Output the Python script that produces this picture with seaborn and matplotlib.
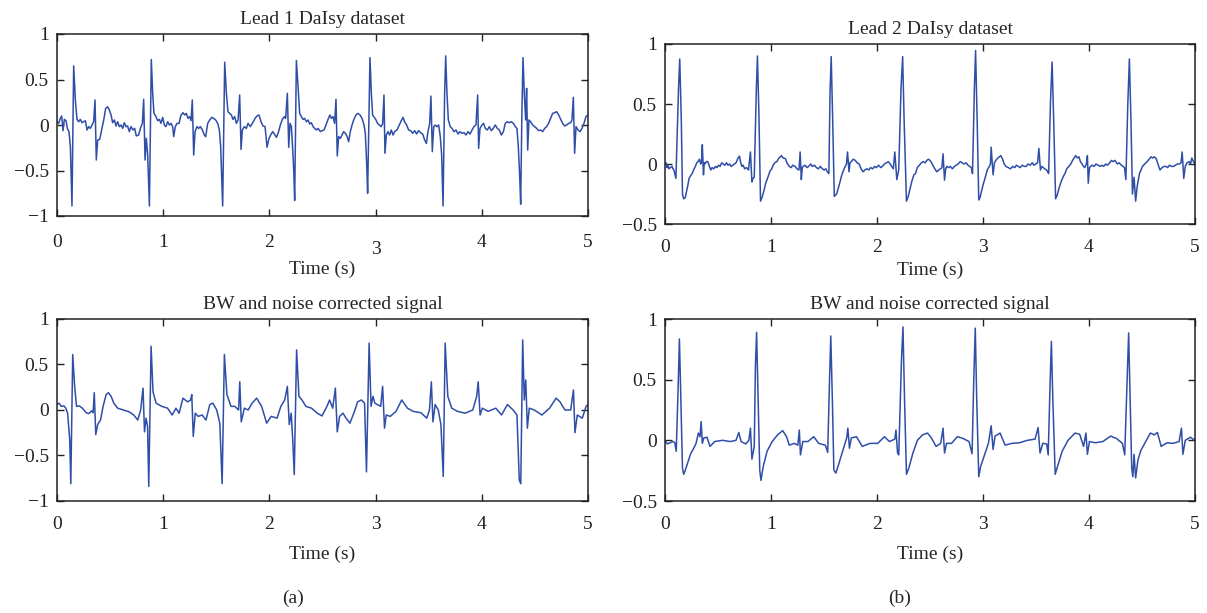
import matplotlib
matplotlib.use("Agg")
import matplotlib.pyplot as plt
import matplotlib.transforms as mtransforms
import seaborn as sns
import pandas as pd

# Lead 1, raw signal (time in s, amplitude)
lead1_t = [0.000, 0.016, 0.031, 0.044, 0.057, 0.069, 0.085, 0.097, 0.113, 0.126,
           0.141, 0.157, 0.173, 0.188, 0.204, 0.220, 0.235, 0.251, 0.267, 0.283,
           0.298, 0.314, 0.330, 0.345, 0.358, 0.370, 0.383, 0.402, 0.417, 0.440,
           0.458, 0.477, 0.493, 0.509, 0.524, 0.540, 0.556, 0.571, 0.587, 0.603,
           0.618, 0.634, 0.650, 0.665, 0.681, 0.697, 0.716, 0.731, 0.747, 0.769,
           0.785, 0.804, 0.816, 0.829, 0.841, 0.854, 0.870, 0.888, 0.901, 0.913,
           0.932, 0.948, 0.964, 0.979, 0.995, 1.011, 1.026, 1.042, 1.058, 1.074,
           1.089, 1.099, 1.114, 1.130, 1.149, 1.168, 1.187, 1.202, 1.218, 1.234,
           1.249, 1.262, 1.274, 1.287, 1.300, 1.318, 1.334, 1.350, 1.369, 1.387,
           1.400, 1.419, 1.438, 1.457, 1.475, 1.494, 1.513, 1.529, 1.541, 1.551,
           1.560, 1.579, 1.595, 1.610, 1.626, 1.642, 1.657, 1.673, 1.689, 1.705,
           1.720, 1.733, 1.745, 1.764, 1.783, 1.799, 1.821, 1.843, 1.865, 1.883,
           1.902, 1.921, 1.940, 1.959, 1.978, 1.996, 2.012, 2.031, 2.047, 2.066,
           2.084, 2.103, 2.122, 2.141, 2.153, 2.169, 2.182, 2.194, 2.207, 2.219,
           2.229, 2.238, 2.254, 2.270, 2.285, 2.301, 2.317, 2.332, 2.348, 2.364,
           2.379, 2.395, 2.411, 2.426, 2.442, 2.458, 2.480, 2.496,
           2.514, 2.533, 2.552, 2.570, 2.583, 2.599, 2.614, 2.627, 2.639, 2.652,
           2.668, 2.683, 2.699, 2.715, 2.730, 2.746, 2.762, 2.778, 2.796, 2.815,
           2.834, 2.853, 2.872, 2.891, 2.903, 2.916, 2.925, 2.938, 2.947, 2.960,
           2.972, 2.988, 3.004, 3.019, 3.035, 3.051, 3.066, 3.079, 3.088, 3.101,
           3.117, 3.132, 3.148, 3.164, 3.179, 3.201, 3.223, 3.242, 3.258, 3.273,
           3.292, 3.311, 3.330, 3.349, 3.368, 3.386, 3.405, 3.424, 3.443, 3.462,
           3.478, 3.493, 3.509, 3.521, 3.534, 3.547, 3.562, 3.578, 3.594, 3.609,
           3.622, 3.635, 3.650, 3.660, 3.672, 3.685, 3.703, 3.719, 3.738, 3.757,
           3.776, 3.795, 3.813, 3.832, 3.851, 3.870, 3.889, 3.908, 3.926, 3.945,
           3.961, 3.970, 3.983, 4.002, 4.017, 4.033, 4.052, 4.071, 4.090, 4.108,
           4.127, 4.146, 4.165, 4.184, 4.203, 4.221, 4.240, 4.259, 4.278, 4.297,
           4.316, 4.331, 4.344, 4.357, 4.366, 4.378, 4.388, 4.400, 4.413, 4.422,
           4.432, 4.444, 4.460, 4.479, 4.498, 4.517, 4.535, 4.554, 4.573, 4.592,
           4.611, 4.629, 4.648, 4.667, 4.686, 4.705, 4.724, 4.743, 4.761, 4.780,
           4.799, 4.818, 4.837, 4.849, 4.862, 4.874, 4.887, 4.906, 4.925, 4.943,
           4.962, 4.981, 5.000]
lead1_v = [0.036, 0.018, 0.073, 0.099, -0.062, 0.062, 0.047, -0.037, -0.073, -0.24,
           -0.89, 0.65, 0.27, 0.062, 0.036, 0.062, 0.025, 0.036, 0.047, -0.055,
           -0.018, -0.037, 0.0, 0.036, 0.275, -0.385, -0.165, -0.158, -0.073, 0.055,
           0.183, 0.20, 0.165, 0.11, 0.025, 0.055, -0.011, 0.036, -0.018, 0.0,
           -0.037, 0.025, -0.018, -0.011, -0.073, -0.018, -0.055, -0.037, -0.12, -0.11,
           -0.037, 0.018, 0.282, -0.385, -0.147, -0.33, -0.89, 0.72, 0.348, 0.128,
           0.092, 0.047, 0.062, 0.018, 0.084, 0.0, -0.018, 0.036, 0.0, 0.018,
           -0.018, -0.128, -0.018, 0.018, 0.018, 0.11, 0.135, 0.11, 0.128, 0.073,
           0.092, 0.047, 0.275, -0.33, -0.073, -0.018, -0.037, -0.018, -0.055, -0.11,
           -0.128, 0.018, 0.055, 0.084, 0.073, 0.055, 0.018, -0.055, -0.24, -0.568,
           -0.89, 0.69, 0.348, 0.146, 0.128, 0.11, 0.062, 0.092, 0.018, 0.055,
           0.33, -0.268, -0.055, -0.018, -0.037, 0.018, -0.018, 0.025, 0.073, 0.099,
           0.11, 0.036, -0.011, -0.018, -0.245, -0.147, -0.11, -0.073, -0.099, -0.136,
           -0.084, 0.0, 0.062, 0.092, 0.073, 0.348, -0.245, 0.018, -0.018, -0.257,
           -0.495, -0.83, 0.71, 0.42, 0.128, 0.092, 0.062, 0.073, 0.036, 0.055,
           0.011, 0.025, -0.018, -0.037, -0.055, -0.037, -0.073, -0.062,
           -0.055, 0.0, 0.062, 0.11, 0.073, 0.092, 0.018, 0.282, -0.34, -0.128,
           -0.147, -0.11, -0.073, -0.092, -0.12, -0.183, -0.073, 0.0, 0.062, 0.11,
           0.128, 0.11, 0.073, 0.0, -0.092, -0.422, -0.75, 0.165, 0.74, 0.348,
           0.11, 0.084, 0.055, 0.018, 0.0, -0.018, 0.011, 0.33, -0.311, -0.11,
           -0.073, -0.11, -0.055, -0.11, -0.073, -0.055, 0.0, 0.047, 0.084, 0.036,
           0.0, -0.055, -0.062, -0.092, -0.062, -0.099, -0.062, -0.084, -0.099, -0.165,
           -0.202, -0.073, 0.018, 0.318, -0.293, -0.018, 0.0, -0.018, 0.0, -0.128,
           -0.33, -0.89, 0.348, 0.76, 0.348, 0.055, -0.018, -0.037, -0.073, -0.055,
           -0.099, -0.073, -0.092, -0.084, -0.11, -0.073, -0.099, -0.055, -0.018, 0.0,
           0.33, -0.257, -0.037, 0.0, 0.018, -0.037, -0.055, -0.018, -0.062, -0.037,
           0.0, -0.037, -0.055, -0.11, -0.073, 0.018, 0.036, 0.025, 0.036, 0.018,
           -0.018, -0.037, -0.24, -0.568, -0.87, 0.165, 0.74, 0.348, 0.055, 0.403,
           -0.275, 0.055, 0.036, 0.0, -0.018, -0.037, -0.062, -0.055, -0.073, -0.037,
           -0.018, 0.018, 0.073, 0.128, 0.135, 0.146, 0.11, 0.062, 0.018, -0.011,
           0.0, 0.018, 0.025, 0.055, 0.304, -0.311, -0.018, -0.055, -0.073, -0.037,
           0.018, 0.092, 0.11]

# Lead 2, raw signal
lead2_t = [0.000, 0.010, 0.018, 0.028, 0.037, 0.050, 0.066, 0.075, 0.084, 0.103,
           0.128, 0.139, 0.154, 0.165, 0.176, 0.191, 0.205, 0.215, 0.227, 0.240,
           0.256, 0.270, 0.286, 0.300, 0.311, 0.325, 0.337, 0.345, 0.352, 0.363,
           0.370, 0.377, 0.390, 0.403, 0.415, 0.432, 0.445, 0.460, 0.476, 0.490,
           0.505, 0.520, 0.535, 0.549, 0.565, 0.580, 0.595, 0.610, 0.623, 0.640,
           0.655, 0.670, 0.689, 0.703, 0.712, 0.725, 0.738, 0.751, 0.770, 0.788,
           0.806, 0.820, 0.830, 0.842, 0.861, 0.872, 0.886, 0.901, 0.915, 0.934,
           0.950, 0.971, 0.990, 1.007, 1.020, 1.035, 1.055, 1.075, 1.090, 1.099,
           1.115, 1.136, 1.150, 1.172, 1.190, 1.205, 1.227, 1.245, 1.264, 1.275,
           1.286, 1.295, 1.304, 1.320, 1.340, 1.355, 1.375, 1.390, 1.410, 1.428,
           1.447, 1.465, 1.485, 1.502, 1.518, 1.531, 1.546, 1.557, 1.568, 1.582,
           1.597, 1.619, 1.635, 1.648, 1.665, 1.685, 1.700, 1.712, 1.722, 1.736,
           1.745, 1.758, 1.775, 1.795, 1.812, 1.832, 1.850, 1.868, 1.885, 1.905,
           1.923, 1.940, 1.960, 1.978, 1.995, 2.015, 2.035, 2.051, 2.070, 2.090,
           2.106, 2.125, 2.140, 2.154, 2.168, 2.187, 2.205, 2.227, 2.242, 2.256,
           2.278, 2.295, 2.308, 2.330, 2.348, 2.363, 2.380, 2.400, 2.418, 2.436,
           2.455, 2.470, 2.484, 2.500, 2.515, 2.527, 2.545, 2.564, 2.582, 2.600,
           2.612, 2.623, 2.637, 2.648, 2.659, 2.675, 2.692, 2.711, 2.730, 2.748,
           2.766, 2.785, 2.803, 2.821, 2.840, 2.858, 2.875, 2.890, 2.901, 2.919,
           2.930, 2.945, 2.960, 2.972, 2.985, 3.005, 3.022, 3.040, 3.059, 3.070,
           3.077, 3.095, 3.108, 3.121, 3.140, 3.155, 3.168, 3.185, 3.200, 3.216,
           3.238, 3.260, 3.280, 3.300, 3.315, 3.333, 3.350, 3.370, 3.390, 3.407,
           3.425, 3.445, 3.465, 3.480, 3.498, 3.515, 3.527, 3.542, 3.555, 3.568,
           3.582, 3.600, 3.619, 3.637, 3.652, 3.667, 3.685, 3.700, 3.718, 3.740,
           3.760, 3.773, 3.790, 3.810, 3.828, 3.845, 3.860, 3.875, 3.890, 3.905,
           3.919, 3.935, 3.948, 3.960, 3.975, 3.985, 3.993, 4.005, 4.015, 4.030,
           4.048, 4.066, 4.085, 4.105, 4.122, 4.139, 4.158, 4.175, 4.195, 4.212,
           4.228, 4.245, 4.267, 4.285, 4.305, 4.322, 4.335, 4.348, 4.366, 4.381,
           4.396, 4.410, 4.425, 4.440, 4.454, 4.476, 4.490, 4.505, 4.525, 4.549,
           4.568, 4.586, 4.600, 4.615, 4.634, 4.650, 4.670, 4.690, 4.708, 4.725,
           4.742, 4.760, 4.780, 4.799, 4.815, 4.835, 4.853, 4.868, 4.879, 4.894,
           4.908, 4.925, 4.945, 4.958, 4.970, 4.985, 5.000]
lead2_v = [0.00, 0.01, -0.03, -0.01, -0.04, -0.03, -0.02, -0.04, -0.05, -0.12,
           0.64, 0.875, 0.36, -0.25, -0.29, -0.28, -0.22, -0.18, -0.12, -0.10,
           -0.08, -0.05, -0.02, 0.01, 0.02, 0.04, 0.00, 0.02, 0.16, -0.09,
           0.01, 0.00, 0.02, 0.02, -0.01, -0.05, -0.03, -0.04, -0.02, -0.03,
           -0.01, -0.02, 0.01, 0.00, -0.01, 0.01, -0.01, 0.00, -0.02, -0.01,
           0.00, 0.01, 0.05, 0.065, 0.02, -0.02, -0.01, -0.04, -0.03, -0.05,
           0.10, -0.15, -0.12, -0.11, 0.60, 0.90, 0.42, -0.31, -0.28, -0.22,
           -0.16, -0.11, -0.06, -0.04, -0.01, 0.01, 0.02, 0.05, 0.06, 0.07,
           0.05, 0.045, 0.01, -0.02, -0.03, -0.01, -0.02, -0.04, -0.05, 0.10,
           -0.13, -0.03, -0.02, -0.01, -0.03, -0.02, 0.00, -0.02, -0.01, -0.03,
           -0.04, -0.02, -0.04, -0.05, -0.04, -0.065, -0.08, 0.60, 0.895, 0.36,
           -0.27, -0.25, -0.20, -0.16, -0.10, -0.05, -0.02, 0.00, 0.10, -0.065,
           0.01, 0.02, 0.04, 0.03, 0.01, 0.00, -0.04, -0.065, -0.05, -0.04,
           -0.05, -0.03, -0.04, -0.02, -0.03, -0.01, -0.03, -0.02, 0.00, 0.01,
           0.02, 0.00, -0.02, -0.04, 0.10, -0.13, -0.05, 0.64, 0.895, 0.36,
           -0.31, -0.27, -0.22, -0.14, -0.09, -0.08, -0.03, -0.01, 0.01, 0.02,
           0.01, 0.03, 0.04, 0.03, 0.01, -0.01, -0.04, -0.065, -0.05, -0.04,
           -0.03, 0.085, -0.135, -0.04, -0.02, -0.03, -0.02, -0.04, -0.02, -0.01,
           0.00, 0.02, 0.01, 0.00, 0.01, -0.01, -0.02, -0.03, -0.08, 0.64,
           0.945, 0.36, -0.30, -0.28, -0.23, -0.16, -0.11, -0.05, -0.02, 0.00,
           0.14, -0.09, 0.01, 0.03, 0.05, 0.06, 0.07, 0.04, 0.00, -0.02,
           -0.03, -0.04, -0.02, -0.03, -0.01, -0.02, -0.03, -0.01, -0.02, -0.02,
           0.00, -0.01, 0.01, -0.01, 0.00, 0.01, 0.13, -0.05, -0.02, -0.03,
           -0.04, -0.05, -0.08, 0.53, 0.85, 0.36, -0.29, -0.26, -0.20, -0.14,
           -0.10, -0.08, -0.04, -0.02, 0.00, 0.03, 0.05, 0.07, 0.05, 0.06,
           0.02, 0.00, -0.02, -0.03, 0.00, 0.07, -0.16, -0.03, -0.02, -0.01,
           -0.02, 0.00, -0.01, -0.02, -0.01, -0.02, 0.00, -0.01, 0.01, 0.03,
           0.02, 0.03, 0.00, 0.01, -0.01, -0.02, -0.03, -0.13, 0.50, 0.875,
           0.36, -0.25, -0.11, -0.31, -0.19, -0.08, -0.05, -0.02, 0.00, 0.02,
           0.04, 0.06, 0.05, 0.06, 0.045, 0.00, -0.05, -0.03, -0.02, -0.02,
           -0.03, -0.01, -0.02, -0.02, -0.01, 0.00, 0.00, 0.01, 0.10, -0.12,
           -0.02, 0.01, 0.02, 0.00, 0.05, 0.02, 0.00]

# Lead 1, baseline wander and noise corrected
corr1_t = [0.000, 0.020, 0.040, 0.065, 0.083, 0.100, 0.120, 0.130, 0.148, 0.166,
           0.184, 0.210, 0.239, 0.275, 0.300, 0.325, 0.340, 0.351, 0.365, 0.383,
           0.410, 0.434, 0.463, 0.484, 0.510, 0.535, 0.571, 0.625, 0.680, 0.723,
           0.760, 0.788, 0.810, 0.824, 0.839, 0.853, 0.864, 0.886, 0.904, 0.933,
           0.987, 1.041, 1.085, 1.120, 1.150, 1.186, 1.229, 1.258, 1.269, 1.283,
           1.302, 1.330, 1.367, 1.403, 1.439, 1.468, 1.504, 1.533, 1.555, 1.576,
           1.600, 1.638, 1.674, 1.710, 1.721, 1.735, 1.764, 1.800, 1.837, 1.880,
           1.927, 1.974, 2.017, 2.072, 2.108, 2.144, 2.169, 2.187, 2.205, 2.220,
           2.234, 2.256, 2.278, 2.307, 2.343, 2.397, 2.451, 2.495, 2.542, 2.567,
           2.596, 2.621, 2.639, 2.661, 2.693, 2.722, 2.758, 2.795, 2.831, 2.867,
           2.896, 2.914, 2.939, 2.957, 2.975, 2.993, 3.048, 3.066, 3.084, 3.100,
           3.138, 3.192, 3.246, 3.300, 3.354, 3.427, 3.482, 3.507, 3.525, 3.540,
           3.561, 3.590, 3.615, 3.637, 3.655, 3.680, 3.717, 3.771, 3.843, 3.915,
           3.952, 3.966, 3.984, 4.005, 4.059, 4.132, 4.186, 4.241, 4.295, 4.331,
           4.353, 4.367, 4.385, 4.400, 4.414, 4.429, 4.447, 4.494, 4.566, 4.638,
           4.700, 4.736, 4.783, 4.837, 4.863, 4.877, 4.899, 4.946, 4.982, 5.000]
corr1_v = [0.06, 0.075, 0.04, 0.045, 0.02, -0.035, -0.33, -0.81, 0.61, 0.26,
           0.04, 0.045, 0.02, -0.03, -0.04, -0.01, -0.03, 0.19, -0.27, -0.16,
           -0.11, 0.04, 0.17, 0.19, 0.15, 0.075, 0.02, 0.00, -0.02, -0.055,
           -0.11, 0.00, 0.24, -0.24, -0.09, -0.18, -0.84, 0.70, 0.20, 0.075,
           0.04, 0.02, -0.055, 0.02, -0.035, 0.13, 0.09, 0.11, 0.17, -0.29,
           -0.035, -0.07, -0.055, -0.11, 0.06, 0.075, 0.00, -0.145, -0.81, 0.61,
           0.17, 0.04, 0.04, 0.00, 0.31, -0.13, 0.02, 0.00, 0.075, 0.13,
           0.04, -0.145, -0.07, -0.09, 0.04, 0.11, 0.26, -0.16, -0.035, -0.33,
           -0.71, 0.66, 0.15, 0.11, 0.04, 0.02, -0.035, -0.065, 0.04, 0.11,
           0.02, 0.24, -0.24, -0.07, -0.035, -0.09, -0.145, -0.035, 0.09, 0.11,
           0.075, -0.68, 0.735, 0.04, 0.15, 0.075, 0.04, 0.26, -0.20, -0.055,
           -0.07, -0.015, 0.11, 0.02, -0.015, -0.03, -0.09, 0.00, 0.31, -0.13,
           0.06, 0.00, -0.16, -0.73, 0.735, 0.15, 0.02, -0.015, -0.035, 0.00,
           0.15, 0.31, -0.055, 0.02, -0.015, 0.02, -0.055, 0.06, 0.00, -0.055,
           -0.77, -0.81, 0.77, 0.11, 0.33, -0.20, 0.02, 0.00, -0.055, 0.02,
           0.13, 0.09, 0.00, 0.00, 0.22, -0.25, -0.055, -0.09, 0.04, 0.06]

# Lead 2, baseline wander and noise corrected
corr2_t = [0.000, 0.022, 0.048, 0.073, 0.092, 0.106, 0.125, 0.136, 0.150, 0.165,
           0.176, 0.190, 0.212, 0.242, 0.271, 0.293, 0.315, 0.330, 0.341, 0.352,
           0.366, 0.396, 0.425, 0.469, 0.542, 0.615, 0.670, 0.696, 0.718, 0.762,
           0.791, 0.806, 0.820, 0.842, 0.853, 0.864, 0.879, 0.894, 0.905, 0.927,
           0.963, 1.011, 1.062, 1.110, 1.147, 1.172, 1.220, 1.253, 1.267, 1.278,
           1.300, 1.348, 1.403, 1.450, 1.513, 1.535, 1.553, 1.564, 1.579, 1.593,
           1.612, 1.641, 1.685, 1.714, 1.725, 1.740, 1.758, 1.806, 1.861, 1.934,
           2.007, 2.070, 2.117, 2.168, 2.179, 2.194, 2.205, 2.231, 2.245, 2.260,
           2.278, 2.300, 2.337, 2.381, 2.429, 2.476, 2.513, 2.557, 2.601, 2.623,
           2.637, 2.656, 2.703, 2.758, 2.813, 2.868, 2.897, 2.912, 2.927, 2.941,
           2.960, 2.978, 3.015, 3.051, 3.077, 3.095, 3.114, 3.161, 3.209, 3.271,
           3.344, 3.418, 3.491, 3.520, 3.538, 3.564, 3.601, 3.615, 3.634, 3.645,
           3.659, 3.681, 3.703, 3.747, 3.802, 3.868, 3.912, 3.949, 3.971, 3.985,
           4.004, 4.059, 4.130, 4.205, 4.260, 4.315, 4.337, 4.359, 4.374, 4.388,
           4.403, 4.414, 4.425, 4.440, 4.462, 4.491, 4.535, 4.579, 4.615, 4.645,
           4.681, 4.736, 4.791, 4.850, 4.872, 4.886, 4.908, 4.956, 5.000]
corr2_v = [0.00, -0.03, -0.02, -0.01, -0.02, -0.09, 0.47, 0.835, 0.33, -0.23,
           -0.28, -0.25, -0.19, -0.11, -0.065, -0.025, 0.06, 0.03, 0.155, -0.025,
           0.02, 0.025, -0.05, -0.01, 0.00, -0.01, 0.00, 0.065, -0.01, -0.03,
           0.00, 0.10, -0.155, -0.05, 0.61, 0.89, 0.33, -0.245, -0.33, -0.215,
           -0.09, -0.01, 0.045, 0.08, 0.03, -0.04, -0.025, -0.04, 0.085, -0.12,
           -0.01, -0.01, 0.03, -0.025, -0.04, -0.10, 0.525, 0.86, 0.33, -0.245,
           -0.27, -0.19, -0.065, 0.02, 0.10, -0.065, 0.02, 0.03, -0.05, -0.025,
           -0.025, 0.03, -0.01, 0.01, 0.085, -0.105, -0.12, 0.665, 0.935, 0.33,
           -0.28, -0.23, -0.11, 0.00, 0.045, 0.06, 0.02, -0.05, -0.025, 0.10,
           -0.105, -0.025, -0.025, 0.03, 0.015, -0.01, -0.11, 0.47, 0.925, 0.33,
           -0.30, -0.215, -0.12, -0.025, 0.12, -0.075, 0.035, 0.06, -0.04, -0.025,
           -0.02, 0.00, 0.01, 0.105, -0.105, -0.025, -0.03, -0.12, 0.50, 0.815,
           0.33, -0.28, -0.215, -0.09, 0.00, 0.06, 0.05, -0.05, 0.06, -0.115,
           -0.01, -0.02, -0.01, 0.035, 0.015, -0.025, -0.12, 0.47, 0.885, 0.33,
           -0.23, -0.30, -0.115, -0.31, -0.16, -0.08, -0.01, 0.06, 0.045, 0.065,
           -0.05, -0.02, -0.025, -0.01, 0.10, -0.115, 0.00, 0.025, 0.00]

titles = ["Lead 1 DaIsy dataset", "Lead 2 DaIsy dataset",
          "BW and noise corrected signal", "BW and noise corrected signal"]
x_ticks = [0, 1, 2, 3, 4, 5]
y_ticks_a = [-1, -0.5, 0, 0.5, 1]
y_ticks_b = [-0.5, 0, 0.5, 1]

LINE_COLOR = "#2f4ea8"

sns.set_theme(style="ticks")
plt.rcParams["font.family"] = ["Liberation Serif", "DejaVu Serif"]
plt.rcParams["font.size"] = 14

fig = plt.figure(figsize=(12.07, 6.13), dpi=100)

W, H = 1207, 613
def px_axes(x0, y0, x1, y1):
    return fig.add_axes([x0 / W, 1 - y1 / H, (x1 - x0) / W, (y1 - y0) / H])

ax_tl = px_axes(57, 34, 588, 216)
ax_tr = px_axes(665, 44, 1195, 224)
ax_bl = px_axes(57, 319, 588, 501)
ax_br = px_axes(665, 319, 1195, 501)

# axes, t, v, y range, y ticks, x tick pad, x label pad
panels = [
    (ax_tl, lead1_t, lead1_v, (-1, 1), y_ticks_a, 13, 2),
    (ax_tr, lead2_t, lead2_v, (-0.5, 1), y_ticks_b, 10.5, 4.5),
    (ax_bl, corr1_t, corr1_v, (-1, 1), y_ticks_a, 11, 9),
    (ax_br, corr2_t, corr2_v, (-0.5, 1), y_ticks_b, 11, 9),
]

for i, (ax, t, v, ylim, yticks, xpad, lpad) in enumerate(panels):
    df = pd.DataFrame({"t": t, "v": v})
    sns.lineplot(data=df, x="t", y="v", ax=ax, color=LINE_COLOR,
                 linewidth=1.1, estimator=None)
    ax.set_xlim(0, 5)
    ax.set_ylim(*ylim)
    ax.set_xticks(x_ticks)
    ax.set_xticklabels([str(x) for x in x_ticks])
    ax.set_yticks(yticks)
    ax.set_yticklabels([("\u2212" + f"{abs(y):g}") if y < 0 else f"{y:g}" for y in yticks])
    ax.set_title(titles[i], fontsize=14, pad=7)
    ax.set_xlabel("Time (s)", fontsize=14, labelpad=lpad)
    ax.set_ylabel("")
    ax.tick_params(direction="in", top=True, right=True, length=5, width=1,
                   labelsize=14, colors="#222222")
    ax.tick_params(axis="x", pad=xpad)
    ax.tick_params(axis="y", pad=6)
    for s in ax.spines.values():
        s.set_visible(True)
        s.set_linewidth(1.1)
        s.set_color("#222222")

# the "3" label in the first panel sits a little lower in the original
lbl3 = ax_tl.get_xticklabels()[3]
lbl3.set_transform(lbl3.get_transform() + mtransforms.ScaledTranslation(0, -5 / 72, fig.dpi_scale_trans))

fig.text(293 / W, 1 - 598 / H, "(a)", ha="center", va="center", fontsize=14)
fig.text(900 / W, 1 - 598 / H, "(b)", ha="center", va="center", fontsize=14)

fig.savefig("out.png", dpi=100)
